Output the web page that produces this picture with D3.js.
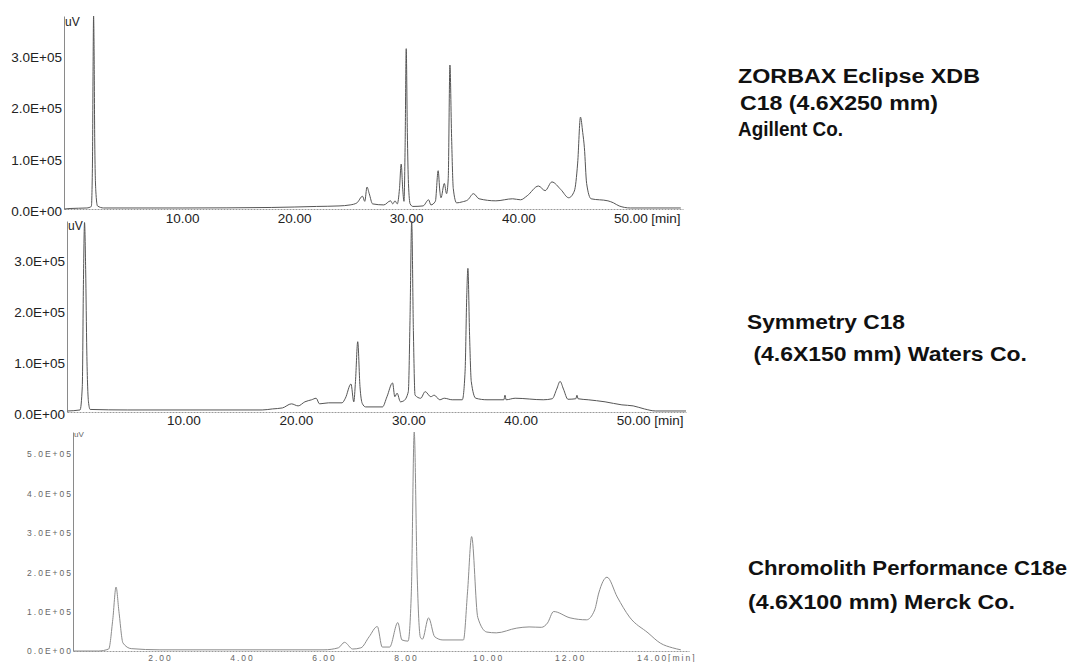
<!DOCTYPE html>
<html>
<head>
<meta charset="utf-8">
<script src="https://cdnjs.cloudflare.com/ajax/libs/d3/7.8.5/d3.min.js"></script>
<style>
body { margin: 0; background: #fff; }
svg { display: block; }
</style>
</head>
<body>
<script>
var svgWidth = 1070
var svgHeight = 662

// traces: [time (min), signal (uV)]
// 1. ZORBAX Eclipse XDB
var trace1 = [[-0.5,0],[0,1000],[1.5,2000],[1.9,5000],[2.0,90000],[2.05,260000],[2.1,378000],[2.15,300000],[2.2,140000],[2.3,35000],[2.45,6000],[3,2000],[10,2000],[18,3000],[22,5000],[24,6000],[25,8000],[25.6,12000],[26.1,25000],[26.3,15000],[26.5,43000],[26.7,30000],[27.0,10000],[28,8000],[28.6,16000],[28.8,10000],[29.0,16000],[29.2,10000],[29.4,40000],[29.55,88000],[29.7,35000],[29.8,15000],[29.9,120000],[30.0,314000],[30.1,150000],[30.2,50000],[30.35,10000],[30.6,5000],[31.5,6000],[32.0,18000],[32.2,8000],[32.6,15000],[32.85,75000],[33.0,35000],[33.1,22000],[33.4,50000],[33.6,30000],[33.75,60000],[33.9,282000],[34.05,140000],[34.2,40000],[34.5,12000],[35,14000],[35.5,18000],[36.0,30000],[36.5,20000],[38,16000],[39.5,20000],[40.2,18000],[40.8,26000],[41.8,45000],[42.4,36000],[43.0,53000],[43.8,38000],[44.5,22000],[45.0,35000],[45.3,90000],[45.55,180000],[45.75,150000],[45.9,120000],[46.1,50000],[46.5,20000],[48,16000],[48.5,12000],[49,6000],[50,2000],[54.5,2000]]

// 2. Symmetry C18
var trace2 = [[-0.3,2000],[0.8,4000],[1.0,50000],[1.1,250000],[1.2,372000],[1.3,280000],[1.4,120000],[1.55,20000],[1.7,5000],[5,4000],[17,4000],[17.9,6000],[18.8,8000],[19.6,16000],[20.2,12000],[20.8,20000],[21.4,24000],[21.8,27000],[22.1,16000],[22.9,18000],[24.1,18000],[24.4,27000],[24.9,55000],[25.15,20000],[25.3,60000],[25.5,138000],[25.7,50000],[25.9,17000],[26.2,10000],[27.7,10000],[28.1,30000],[28.6,57000],[28.8,30000],[29.0,37000],[29.3,20000],[29.6,22000],[30.0,40000],[30.15,180000],[30.3,375000],[30.45,160000],[30.6,33000],[31.1,27000],[31.5,40000],[32.0,30000],[32.3,33000],[32.8,24000],[33.2,27000],[33.9,24000],[34.8,24000],[35.05,80000],[35.2,230000],[35.3,282000],[35.45,150000],[35.6,60000],[36.0,27000],[37,24000],[38.5,24000],[38.6,33000],[38.7,24000],[39.5,27000],[42,24000],[42.8,26000],[43.2,45000],[43.5,60000],[43.8,45000],[44.2,25000],[44.9,26000],[45.0,33000],[45.1,26000],[46,24000],[47.5,20000],[49,14000],[50,12000],[51,6000],[52,2000],[54.7,2000]]

// 3. Chromolith Performance C18e
var trace3 = [[-0.1,0],[0.5,0],[0.75,5000],[0.85,80000],[0.93,162000],[1.0,100000],[1.1,20000],[1.3,6000],[2,3000],[6.0,3000],[6.35,8000],[6.5,22000],[6.7,5000],[6.9,8000],[7.1,36000],[7.3,62000],[7.42,10000],[7.6,10000],[7.8,72000],[7.9,28000],[8.05,25000],[8.13,150000],[8.2,555000],[8.27,200000],[8.35,35000],[8.4,30000],[8.55,84000],[8.7,36000],[8.9,28000],[9.4,28000],[9.5,150000],[9.6,290000],[9.75,85000],[9.97,48000],[10.2,46000],[10.7,58000],[11.0,61000],[11.3,60000],[11.45,71000],[11.6,100000],[12.0,84000],[12.4,79000],[12.6,104000],[12.7,147000],[12.9,187000],[13.15,137000],[13.45,86000],[13.9,46000],[14.2,20000],[14.5,8000],[14.7,3000]]

// tick values and labels
var yTicks12 = [0, 100000, 200000, 300000]
var yLabels12 = ["0.0E+00", "1.0E+05", "2.0E+05", "3.0E+05"]
var xTicks12 = [10, 20, 30, 40, 50]
var xLabels12 = ["10.00", "20.00", "30.00", "40.00", "50.00"]
var yTicks3 = [0, 100000, 200000, 300000, 400000, 500000]
var yLabels3 = ["0.0E+00", "1.0E+05", "2.0E+05", "3.0E+05", "4.0E+05", "5.0E+05"]
var xTicks3 = [2, 4, 6, 8, 10, 12, 14]
var xLabels3 = ["2.00", "4.00", "6.00", "8.00", "10.00", "12.00", "14.00"]

// column names on the right
var names1 = ["ZORBAX Eclipse XDB", "C18 (4.6X250 mm)", "Agillent Co."]
var names2 = ["Symmetry C18", " (4.6X150 mm) Waters Co."]
var names3 = ["Chromolith Performance C18e", "(4.6X100 mm) Merck Co."]

var svg = d3.select("body").append("svg")
    .attr("width", svgWidth)
    .attr("height", svgHeight)
    .style("font-family", "'Liberation Sans', Arial, sans-serif")

svg.append("rect")
    .attr("width", svgWidth)
    .attr("height", svgHeight)
    .attr("fill", "white")

function drawPanel(p) {
    var g = svg.append("g")

    // y axis, no ticks
    var yAxis = g.append("g")
        .attr("transform", "translate(" + p.x.range()[0] + ",0)")
        .call(d3.axisLeft(p.y).tickValues(p.yTicks)
            .tickFormat(function(d, i) { return p.yLabels[i] })
            .tickSize(0).tickSizeOuter(0).tickPadding(p.yPad))
    yAxis.select(".domain").attr("stroke", "#8a8a8a")
    yAxis.selectAll("text")
        .attr("dy", p.yDy)
        .style("font-size", p.fontSize)
        .style("letter-spacing", p.spacing)
        .attr("fill", p.labelColor)

    // x axis, baseline dotted
    var xAxis = g.append("g")
        .attr("transform", "translate(0," + p.y(0) + ")")
        .call(d3.axisBottom(p.x).tickValues(p.xTicks)
            .tickFormat(function(d, i) { return p.xLabels[i] })
            .tickSize(0).tickSizeOuter(0).tickPadding(p.xPad))
    xAxis.select(".domain")
        .attr("stroke", "#9a9a9a")
        .attr("stroke-dasharray", "2,1")
    xAxis.selectAll("text")
        .style("font-size", p.fontSize)
        .style("letter-spacing", p.spacing)
        .attr("fill", p.labelColor)

    // [min] after last tick
    var last = p.xTicks[p.xTicks.length - 1]
    g.append("text")
        .attr("x", p.x(last) + p.minGap)
        .attr("y", p.y(0) + p.xPad)
        .attr("dy", "0.71em")
        .style("font-size", p.fontSize)
        .style("letter-spacing", p.spacing)
        .attr("fill", p.labelColor)
        .text("[min]")

    // unit
    g.append("text")
        .attr("x", p.x.range()[0] + 1)
        .attr("y", p.unitY)
        .style("font-size", p.unitSize)
        .attr("fill", p.labelColor)
        .text("uV")

    // the chromatogram
    var line = d3.line()
        .x(function(d) { return p.x(d[0]) })
        .y(function(d) { return p.y(d[1]) })
        .curve(d3.curveMonotoneX)

    g.append("path")
        .datum(p.data)
        .attr("d", line)
        .attr("fill", "none")
        .attr("stroke", p.color)
        .attr("stroke-width", 1)
}

// panel 1
drawPanel({
    data: trace1,
    x: d3.scaleLinear().domain([-0.54, 54.7]).range([64, 683]),
    y: d3.scaleLinear().domain([0, 378000]).range([209, 16]),
    yTicks: yTicks12, yLabels: yLabels12, xTicks: xTicks12, xLabels: xLabels12,
    yPad: 2, yDy: "0.45em", xPad: 4, fontSize: "13.5px", spacing: "0px",
    labelColor: "#222", minGap: 21, unitY: 26, unitSize: "12px", color: "#555"
})

// panel 2
drawPanel({
    data: trace2,
    x: d3.scaleLinear().domain([-0.36, 54.7]).range([67, 686]),
    y: d3.scaleLinear().domain([0, 375000]).range([412, 221]),
    yTicks: yTicks12, yLabels: yLabels12, xTicks: xTicks12, xLabels: xLabels12,
    yPad: 2, yDy: "0.45em", xPad: 3, fontSize: "13.5px", spacing: "0px",
    labelColor: "#222", minGap: 21, unitY: 230, unitSize: "12px", color: "#555"
})

// panel 3
drawPanel({
    data: trace3,
    x: d3.scaleLinear().domain([-0.12, 14.9]).range([73, 689]),
    y: d3.scaleLinear().domain([0, 555000]).range([651, 432]),
    yTicks: yTicks3, yLabels: yLabels3, xTicks: xTicks3, xLabels: xLabels3,
    yPad: 0, yDy: "0.35em", xPad: 4, fontSize: "8.5px", spacing: "2px",
    labelColor: "#666", minGap: 16, unitY: 437, unitSize: "8px", color: "#8c8c8c"
})

// names on the right, stretched like the scan
function drawNames(lines, xs, ys, widths) {
    svg.selectAll(null)
        .data(lines)
        .enter().append("text")
        .attr("x", function(d, i) { return xs[i] })
        .attr("y", function(d, i) { return ys[i] })
        .attr("textLength", function(d, i) { return widths[i] })
        .attr("lengthAdjust", "spacingAndGlyphs")
        .style("font-size", "19.5px")
        .style("font-weight", "bold")
        .style("white-space", "pre")
        .attr("fill", "#111")
        .text(function(d) { return d })
}

drawNames(names1, [738, 740, 738], [83, 110, 136], [242, 198, 105])
drawNames(names2, [747, 747], [329, 361], [158, 280])
drawNames(names3, [748, 748], [575, 609], [319, 267])
</script>
</body>
</html>
